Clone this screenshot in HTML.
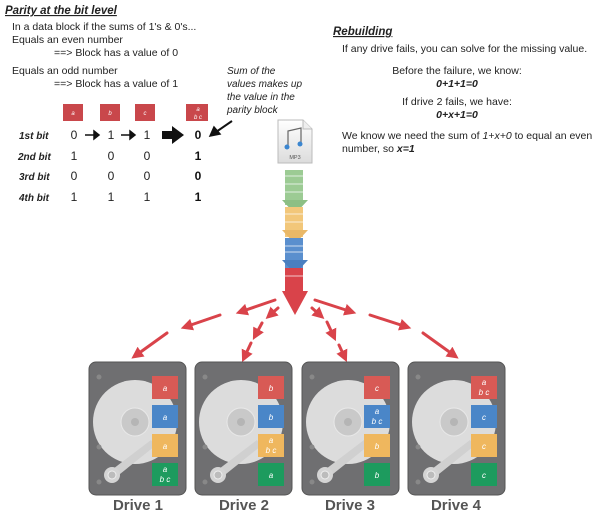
<!DOCTYPE html>
<html><head><style>
body{margin:0;background:#fff;width:600px;height:521px;overflow:hidden;font-family:"Liberation Sans",sans-serif}
</style></head><body>
<svg width="600" height="521" viewBox="0 0 600 521" xmlns="http://www.w3.org/2000/svg" font-family="Liberation Sans, sans-serif">
<defs>
<marker id="ah" markerWidth="4" markerHeight="4" refX="2.5" refY="2" orient="auto" markerUnits="strokeWidth">
<path d="M0,0 L4,2 L0,4 z" fill="#d9434a"/></marker>
<linearGradient id="mp3" x1="0" y1="0" x2="0" y2="1"><stop offset="0" stop-color="#fff"/><stop offset="1" stop-color="#dcdcdc"/></linearGradient>
<g id="d">
<rect x="0" y="0" width="97" height="133" rx="7" fill="#6f6f71" stroke="#555"/>
<circle cx="46" cy="60" r="42" fill="#dcdcdc"/>
<circle cx="46" cy="60" r="14" fill="#c9c9c9" stroke="#e8e8e8"/>
<circle cx="46" cy="60" r="4" fill="#b5b5b5"/>
<path d="M20,110 L62,78 L66,84 L26,116 z" fill="#d0d0d0"/>
<circle cx="23" cy="113" r="8" fill="#d4d4d4"/><circle cx="23" cy="113" r="4" fill="#bcbcbc" stroke="#eee"/>
<circle cx="10" cy="15" r="2.5" fill="#888"/><circle cx="10" cy="85" r="2.5" fill="#888"/><circle cx="10" cy="120" r="2.5" fill="#888"/>
</g>
</defs>
<!-- left text -->
<text x="5" y="14" font-size="11.5" font-weight="bold" font-style="italic" text-decoration="underline" fill="#222">Parity at the bit level</text>
<g font-size="10.5" fill="#222">
<text x="12" y="30">In a data block if the sums of 1's &amp; 0's...</text>
<text x="12" y="43">Equals an even number</text>
<text x="54" y="56">==&gt; Block has a value of 0</text>
<text x="12" y="74">Equals an odd number</text>
<text x="54" y="87">==&gt; Block has a value of 1</text>
</g>
<g font-size="10" font-style="italic" fill="#222">
<text x="227" y="74">Sum of the</text>
<text x="227" y="87">values makes up</text>
<text x="227" y="100">the value in the</text>
<text x="227" y="113">parity block</text>
</g>
<g fill="#c9474b"><rect x="63" y="104" width="20" height="17"/><rect x="100" y="104" width="20" height="17"/><rect x="135" y="104" width="20" height="17"/><rect x="186" y="104" width="22" height="17"/></g>
<g fill="#fff" font-size="6" font-style="italic" text-anchor="middle"><text x="73" y="115">a</text><text x="110" y="115">b</text><text x="145" y="115">c</text><text x="198" y="111">a</text><text x="198" y="119">b c</text></g>
<g font-size="10" font-weight="bold" font-style="italic" fill="#222">
<text x="19" y="139">1st bit</text><text x="18" y="160">2nd bit</text><text x="19" y="180">3rd bit</text><text x="19" y="201">4th bit</text></g>
<g font-size="12" fill="#222" text-anchor="middle">
<text x="74" y="139">0</text><text x="111" y="139">1</text><text x="147" y="139">1</text>
<text x="74" y="160">1</text><text x="111" y="160">0</text><text x="147" y="160">0</text>
<text x="74" y="180">0</text><text x="111" y="180">0</text><text x="147" y="180">0</text>
<text x="74" y="201">1</text><text x="111" y="201">1</text><text x="147" y="201">1</text>
</g>
<g font-size="12" font-weight="bold" fill="#111" text-anchor="middle"><text x="198" y="139">0</text><text x="198" y="160">1</text><text x="198" y="180">0</text><text x="198" y="201">1</text></g>
<g stroke="#111" stroke-width="1.5" fill="#111">
<line x1="85" y1="135" x2="95" y2="135"/><path d="M94,131 L99,135 L94,139z"/>
<line x1="121" y1="135" x2="131" y2="135"/><path d="M130,131 L135,135 L130,139z"/>
<path d="M162,131 L172,131 L172,126 L184,135 L172,144 L172,139 L162,139z" stroke="none"/>
<line x1="232" y1="121" x2="216" y2="132" stroke-width="2"/><path d="M210,136 L214,127 L220,134z"/>
</g>
<!-- right text -->
<text x="333" y="35" font-size="11.5" font-weight="bold" font-style="italic" text-decoration="underline" fill="#222">Rebuilding</text>
<g font-size="10.5" fill="#222">
<text x="342" y="52">If any drive fails, you can solve for the missing value.</text>
<text x="457" y="74" text-anchor="middle">Before the failure, we know:</text>
<text x="457" y="87" text-anchor="middle" font-weight="bold" font-style="italic">0+1+1=0</text>
<text x="457" y="105" text-anchor="middle">If drive 2 fails, we have:</text>
<text x="457" y="118" text-anchor="middle" font-weight="bold" font-style="italic">0+x+1=0</text>
<text x="342" y="139">We know we need the sum of <tspan font-style="italic">1+x+0</tspan> to equal an even</text>
<text x="342" y="152">number, so <tspan font-weight="bold" font-style="italic">x=1</tspan></text>
</g>
<!-- MP3 icon -->
<path d="M278,120 L303,120 L312,129 L312,163 L278,163 z" fill="url(#mp3)" stroke="#bbb"/>
<path d="M303,120 L303,129 L312,129" fill="#eee" stroke="#bbb"/>
<path d="M288,146 L288,131 L301,128 L301,143" fill="none" stroke="#666" stroke-width="1.2"/>
<circle cx="287" cy="147" r="2.5" fill="#3b86d0"/><circle cx="300" cy="144" r="2.5" fill="#3b86d0"/>
<text x="295" y="159" font-size="5.5" fill="#555" text-anchor="middle">MP3</text>
<!-- stack -->
<rect x="285" y="170" width="18" height="35" fill="#9ccb94"/>
<path d="M282,200 L308,200 L295,214z" fill="#8cbf84"/>
<rect x="285" y="207" width="18" height="30" fill="#f2c77a"/>
<path d="M282,230 L308,230 L295,244z" fill="#e9b868"/>
<rect x="285" y="238" width="18" height="30" fill="#5a8fce"/>
<path d="M282,260 L308,260 L295,274z" fill="#4a7fc0"/>
<rect x="285" y="268" width="18" height="24" fill="#d9434a"/>
<g stroke="#fff" stroke-width="1" opacity="0.7"><line x1="285" y1="176" x2="303" y2="176"/><line x1="285" y1="184" x2="303" y2="184"/><line x1="285" y1="192" x2="303" y2="192"/><line x1="285" y1="214" x2="303" y2="214"/><line x1="285" y1="222" x2="303" y2="222"/><line x1="285" y1="246" x2="303" y2="246"/><line x1="285" y1="252" x2="303" y2="252"/><line x1="285" y1="276" x2="303" y2="276"/></g>
<path d="M282,291 L308,291 L295,315z" fill="#d9434a"/>
<!-- dashed arrows -->
<g stroke="#d9434a" stroke-width="3" fill="none" marker-end="url(#ah)" stroke-linecap="round">
<line x1="275" y1="300" x2="240" y2="312"/><line x1="220" y1="315" x2="185" y2="327"/><line x1="167" y1="333" x2="135" y2="356"/>
<line x1="278" y1="308" x2="269" y2="316"/><line x1="262" y1="323" x2="255" y2="336"/><line x1="251" y1="343" x2="244" y2="358"/>
<line x1="312" y1="308" x2="321" y2="316"/><line x1="327" y1="322" x2="334" y2="337"/><line x1="339" y1="345" x2="345" y2="358"/>
<line x1="315" y1="300" x2="352" y2="312"/><line x1="370" y1="315" x2="407" y2="327"/><line x1="423" y1="333" x2="455" y2="356"/>
</g>
<!-- drives -->
<use href="#d" x="89" y="362"/><use href="#d" x="195" y="362"/><use href="#d" x="302" y="362"/><use href="#d" x="408" y="362"/>
<g>
<rect x="152" y="376" width="26" height="23" fill="#d85a55"/><rect x="152" y="405" width="26" height="23" fill="#4a86c8"/><rect x="152" y="434" width="26" height="23" fill="#efb75e"/><rect x="152" y="463" width="26" height="23" fill="#1d9b5e"/>
<rect x="258" y="376" width="26" height="23" fill="#d85a55"/><rect x="258" y="405" width="26" height="23" fill="#4a86c8"/><rect x="258" y="434" width="26" height="23" fill="#efb75e"/><rect x="258" y="463" width="26" height="23" fill="#1d9b5e"/>
<rect x="364" y="376" width="26" height="23" fill="#d85a55"/><rect x="364" y="405" width="26" height="23" fill="#4a86c8"/><rect x="364" y="434" width="26" height="23" fill="#efb75e"/><rect x="364" y="463" width="26" height="23" fill="#1d9b5e"/>
<rect x="471" y="376" width="26" height="23" fill="#d85a55"/><rect x="471" y="405" width="26" height="23" fill="#4a86c8"/><rect x="471" y="434" width="26" height="23" fill="#efb75e"/><rect x="471" y="463" width="26" height="23" fill="#1d9b5e"/>
</g>
<g fill="#fff" font-size="8" font-style="italic" text-anchor="middle">
<text x="165" y="391">a</text><text x="165" y="420">a</text><text x="165" y="449">a</text><text x="165" y="472">a</text><text x="165" y="482">b c</text>
<text x="271" y="391">b</text><text x="271" y="420">b</text><text x="271" y="443">a</text><text x="271" y="453">b c</text><text x="271" y="478">a</text>
<text x="377" y="391">c</text><text x="377" y="414">a</text><text x="377" y="424">b c</text><text x="377" y="449">b</text><text x="377" y="478">b</text>
<text x="484" y="385">a</text><text x="484" y="395">b c</text><text x="484" y="420">c</text><text x="484" y="449">c</text><text x="484" y="478">c</text>
</g>
<g font-size="15" font-weight="bold" fill="#555" text-anchor="middle">
<text x="138" y="510">Drive 1</text><text x="244" y="510">Drive 2</text><text x="350" y="510">Drive 3</text><text x="456" y="510">Drive 4</text>
</g>
</svg>
</body></html>
